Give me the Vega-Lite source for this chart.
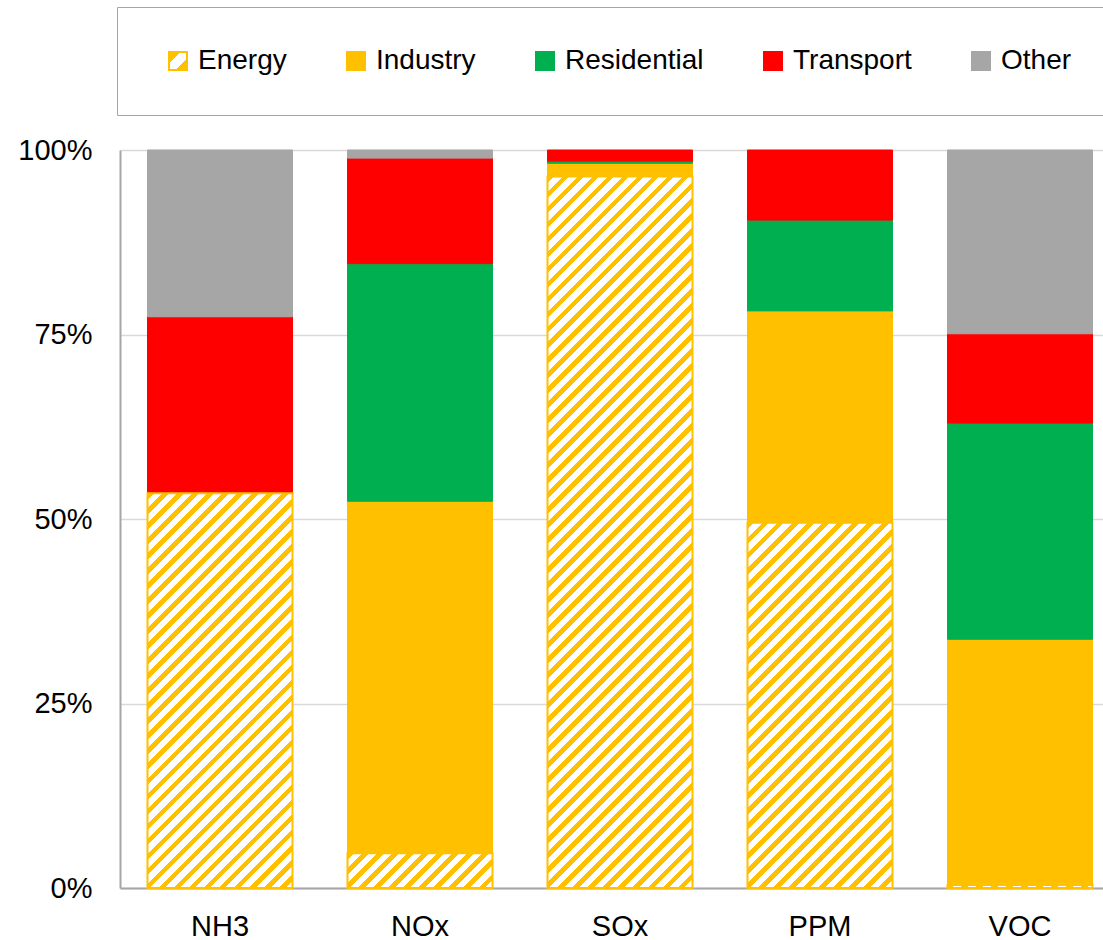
{
"$schema": "https://vega.github.io/schema/vega-lite/v6.json",
"width": 983, "height": 738,
"autosize": {"type": "none"},
"padding": {"left": 120, "top": 150, "right": 0, "bottom": 52},
"background": "white",
"params": [{"name": "stripes", "value": [
{"offset":0,"color":"#FFC000"},{"offset":0.00789,"color":"#FFC000"},{"offset":0.00789,"color":"#fff"},{"offset":0.01754,"color":"#fff"},
{"offset":0.01754,"color":"#FFC000"},{"offset":0.02544,"color":"#FFC000"},{"offset":0.02544,"color":"#fff"},{"offset":0.03509,"color":"#fff"},
{"offset":0.03509,"color":"#FFC000"},{"offset":0.04298,"color":"#FFC000"},{"offset":0.04298,"color":"#fff"},{"offset":0.05263,"color":"#fff"},
{"offset":0.05263,"color":"#FFC000"},{"offset":0.06053,"color":"#FFC000"},{"offset":0.06053,"color":"#fff"},{"offset":0.07018,"color":"#fff"},
{"offset":0.07018,"color":"#FFC000"},{"offset":0.07807,"color":"#FFC000"},{"offset":0.07807,"color":"#fff"},{"offset":0.08772,"color":"#fff"},
{"offset":0.08772,"color":"#FFC000"},{"offset":0.09561,"color":"#FFC000"},{"offset":0.09561,"color":"#fff"},{"offset":0.10526,"color":"#fff"},
{"offset":0.10526,"color":"#FFC000"},{"offset":0.11316,"color":"#FFC000"},{"offset":0.11316,"color":"#fff"},{"offset":0.12281,"color":"#fff"},
{"offset":0.12281,"color":"#FFC000"},{"offset":0.1307,"color":"#FFC000"},{"offset":0.1307,"color":"#fff"},{"offset":0.14035,"color":"#fff"},
{"offset":0.14035,"color":"#FFC000"},{"offset":0.14825,"color":"#FFC000"},{"offset":0.14825,"color":"#fff"},{"offset":0.15789,"color":"#fff"},
{"offset":0.15789,"color":"#FFC000"},{"offset":0.16579,"color":"#FFC000"},{"offset":0.16579,"color":"#fff"},{"offset":0.17544,"color":"#fff"},
{"offset":0.17544,"color":"#FFC000"},{"offset":0.18333,"color":"#FFC000"},{"offset":0.18333,"color":"#fff"},{"offset":0.19298,"color":"#fff"},
{"offset":0.19298,"color":"#FFC000"},{"offset":0.20088,"color":"#FFC000"},{"offset":0.20088,"color":"#fff"},{"offset":0.21053,"color":"#fff"},
{"offset":0.21053,"color":"#FFC000"},{"offset":0.21842,"color":"#FFC000"},{"offset":0.21842,"color":"#fff"},{"offset":0.22807,"color":"#fff"},
{"offset":0.22807,"color":"#FFC000"},{"offset":0.23596,"color":"#FFC000"},{"offset":0.23596,"color":"#fff"},{"offset":0.24561,"color":"#fff"},
{"offset":0.24561,"color":"#FFC000"},{"offset":0.25351,"color":"#FFC000"},{"offset":0.25351,"color":"#fff"},{"offset":0.26316,"color":"#fff"},
{"offset":0.26316,"color":"#FFC000"},{"offset":0.27105,"color":"#FFC000"},{"offset":0.27105,"color":"#fff"},{"offset":0.2807,"color":"#fff"},
{"offset":0.2807,"color":"#FFC000"},{"offset":0.2886,"color":"#FFC000"},{"offset":0.2886,"color":"#fff"},{"offset":0.29825,"color":"#fff"},
{"offset":0.29825,"color":"#FFC000"},{"offset":0.30614,"color":"#FFC000"},{"offset":0.30614,"color":"#fff"},{"offset":0.31579,"color":"#fff"},
{"offset":0.31579,"color":"#FFC000"},{"offset":0.32368,"color":"#FFC000"},{"offset":0.32368,"color":"#fff"},{"offset":0.33333,"color":"#fff"},
{"offset":0.33333,"color":"#FFC000"},{"offset":0.34123,"color":"#FFC000"},{"offset":0.34123,"color":"#fff"},{"offset":0.35088,"color":"#fff"},
{"offset":0.35088,"color":"#FFC000"},{"offset":0.35877,"color":"#FFC000"},{"offset":0.35877,"color":"#fff"},{"offset":0.36842,"color":"#fff"},
{"offset":0.36842,"color":"#FFC000"},{"offset":0.37632,"color":"#FFC000"},{"offset":0.37632,"color":"#fff"},{"offset":0.38596,"color":"#fff"},
{"offset":0.38596,"color":"#FFC000"},{"offset":0.39386,"color":"#FFC000"},{"offset":0.39386,"color":"#fff"},{"offset":0.40351,"color":"#fff"},
{"offset":0.40351,"color":"#FFC000"},{"offset":0.4114,"color":"#FFC000"},{"offset":0.4114,"color":"#fff"},{"offset":0.42105,"color":"#fff"},
{"offset":0.42105,"color":"#FFC000"},{"offset":0.42895,"color":"#FFC000"},{"offset":0.42895,"color":"#fff"},{"offset":0.4386,"color":"#fff"},
{"offset":0.4386,"color":"#FFC000"},{"offset":0.44649,"color":"#FFC000"},{"offset":0.44649,"color":"#fff"},{"offset":0.45614,"color":"#fff"},
{"offset":0.45614,"color":"#FFC000"},{"offset":0.46404,"color":"#FFC000"},{"offset":0.46404,"color":"#fff"},{"offset":0.47368,"color":"#fff"},
{"offset":0.47368,"color":"#FFC000"},{"offset":0.48158,"color":"#FFC000"},{"offset":0.48158,"color":"#fff"},{"offset":0.49123,"color":"#fff"},
{"offset":0.49123,"color":"#FFC000"},{"offset":0.49912,"color":"#FFC000"},{"offset":0.49912,"color":"#fff"},{"offset":0.50877,"color":"#fff"},
{"offset":0.50877,"color":"#FFC000"},{"offset":0.51667,"color":"#FFC000"},{"offset":0.51667,"color":"#fff"},{"offset":0.52632,"color":"#fff"},
{"offset":0.52632,"color":"#FFC000"},{"offset":0.53421,"color":"#FFC000"},{"offset":0.53421,"color":"#fff"},{"offset":0.54386,"color":"#fff"},
{"offset":0.54386,"color":"#FFC000"},{"offset":0.55175,"color":"#FFC000"},{"offset":0.55175,"color":"#fff"},{"offset":0.5614,"color":"#fff"},
{"offset":0.5614,"color":"#FFC000"},{"offset":0.5693,"color":"#FFC000"},{"offset":0.5693,"color":"#fff"},{"offset":0.57895,"color":"#fff"},
{"offset":0.57895,"color":"#FFC000"},{"offset":0.58684,"color":"#FFC000"},{"offset":0.58684,"color":"#fff"},{"offset":0.59649,"color":"#fff"},
{"offset":0.59649,"color":"#FFC000"},{"offset":0.60439,"color":"#FFC000"},{"offset":0.60439,"color":"#fff"},{"offset":0.61404,"color":"#fff"},
{"offset":0.61404,"color":"#FFC000"},{"offset":0.62193,"color":"#FFC000"},{"offset":0.62193,"color":"#fff"},{"offset":0.63158,"color":"#fff"},
{"offset":0.63158,"color":"#FFC000"},{"offset":0.63947,"color":"#FFC000"},{"offset":0.63947,"color":"#fff"},{"offset":0.64912,"color":"#fff"},
{"offset":0.64912,"color":"#FFC000"},{"offset":0.65702,"color":"#FFC000"},{"offset":0.65702,"color":"#fff"},{"offset":0.66667,"color":"#fff"},
{"offset":0.66667,"color":"#FFC000"},{"offset":0.67456,"color":"#FFC000"},{"offset":0.67456,"color":"#fff"},{"offset":0.68421,"color":"#fff"},
{"offset":0.68421,"color":"#FFC000"},{"offset":0.69211,"color":"#FFC000"},{"offset":0.69211,"color":"#fff"},{"offset":0.70175,"color":"#fff"},
{"offset":0.70175,"color":"#FFC000"},{"offset":0.70965,"color":"#FFC000"},{"offset":0.70965,"color":"#fff"},{"offset":0.7193,"color":"#fff"},
{"offset":0.7193,"color":"#FFC000"},{"offset":0.72719,"color":"#FFC000"},{"offset":0.72719,"color":"#fff"},{"offset":0.73684,"color":"#fff"},
{"offset":0.73684,"color":"#FFC000"},{"offset":0.74474,"color":"#FFC000"},{"offset":0.74474,"color":"#fff"},{"offset":0.75439,"color":"#fff"},
{"offset":0.75439,"color":"#FFC000"},{"offset":0.76228,"color":"#FFC000"},{"offset":0.76228,"color":"#fff"},{"offset":0.77193,"color":"#fff"},
{"offset":0.77193,"color":"#FFC000"},{"offset":0.77982,"color":"#FFC000"},{"offset":0.77982,"color":"#fff"},{"offset":0.78947,"color":"#fff"},
{"offset":0.78947,"color":"#FFC000"},{"offset":0.79737,"color":"#FFC000"},{"offset":0.79737,"color":"#fff"},{"offset":0.80702,"color":"#fff"},
{"offset":0.80702,"color":"#FFC000"},{"offset":0.81491,"color":"#FFC000"},{"offset":0.81491,"color":"#fff"},{"offset":0.82456,"color":"#fff"},
{"offset":0.82456,"color":"#FFC000"},{"offset":0.83246,"color":"#FFC000"},{"offset":0.83246,"color":"#fff"},{"offset":0.84211,"color":"#fff"},
{"offset":0.84211,"color":"#FFC000"},{"offset":0.85,"color":"#FFC000"},{"offset":0.85,"color":"#fff"},{"offset":0.85965,"color":"#fff"},
{"offset":0.85965,"color":"#FFC000"},{"offset":0.86754,"color":"#FFC000"},{"offset":0.86754,"color":"#fff"},{"offset":0.87719,"color":"#fff"},
{"offset":0.87719,"color":"#FFC000"},{"offset":0.88509,"color":"#FFC000"},{"offset":0.88509,"color":"#fff"},{"offset":0.89474,"color":"#fff"},
{"offset":0.89474,"color":"#FFC000"},{"offset":0.90263,"color":"#FFC000"},{"offset":0.90263,"color":"#fff"},{"offset":0.91228,"color":"#fff"},
{"offset":0.91228,"color":"#FFC000"},{"offset":0.92018,"color":"#FFC000"},{"offset":0.92018,"color":"#fff"},{"offset":0.92982,"color":"#fff"},
{"offset":0.92982,"color":"#FFC000"},{"offset":0.93772,"color":"#FFC000"},{"offset":0.93772,"color":"#fff"},{"offset":0.94737,"color":"#fff"},
{"offset":0.94737,"color":"#FFC000"},{"offset":0.95526,"color":"#FFC000"},{"offset":0.95526,"color":"#fff"},{"offset":0.96491,"color":"#fff"},
{"offset":0.96491,"color":"#FFC000"},{"offset":0.97281,"color":"#FFC000"},{"offset":0.97281,"color":"#fff"},{"offset":0.98246,"color":"#fff"},
{"offset":0.98246,"color":"#FFC000"},{"offset":0.99035,"color":"#FFC000"},{"offset":0.99035,"color":"#fff"},{"offset":1,"color":"#fff"}
]}],
"data": {"values": [
{"pollutant": "NH3", "sector": "Energy", "value": 53.5, "k": 1},
{"pollutant": "NH3", "sector": "Transport", "value": 23.9, "k": 4},
{"pollutant": "NH3", "sector": "Other", "value": 22.6, "k": 5},
{"pollutant": "NOx", "sector": "Energy", "value": 4.7, "k": 1},
{"pollutant": "NOx", "sector": "Industry", "value": 47.7, "k": 2},
{"pollutant": "NOx", "sector": "Residential", "value": 32.2, "k": 3},
{"pollutant": "NOx", "sector": "Transport", "value": 14.3, "k": 4},
{"pollutant": "NOx", "sector": "Other", "value": 1.1, "k": 5},
{"pollutant": "SOx", "sector": "Energy", "value": 96.4, "k": 1},
{"pollutant": "SOx", "sector": "Industry", "value": 1.8, "k": 2},
{"pollutant": "SOx", "sector": "Residential", "value": 0.3, "k": 3},
{"pollutant": "SOx", "sector": "Transport", "value": 1.5, "k": 4},
{"pollutant": "PPM", "sector": "Energy", "value": 49.5, "k": 1},
{"pollutant": "PPM", "sector": "Industry", "value": 28.7, "k": 2},
{"pollutant": "PPM", "sector": "Residential", "value": 12.3, "k": 3},
{"pollutant": "PPM", "sector": "Transport", "value": 9.5, "k": 4},
{"pollutant": "VOC", "sector": "Energy", "value": 0.4, "k": 1},
{"pollutant": "VOC", "sector": "Industry", "value": 33.3, "k": 2},
{"pollutant": "VOC", "sector": "Residential", "value": 29.3, "k": 3},
{"pollutant": "VOC", "sector": "Transport", "value": 12.1, "k": 4},
{"pollutant": "VOC", "sector": "Other", "value": 24.9, "k": 5}
]},
"encoding": {
  "x": {"field": "pollutant", "type": "nominal",
        "scale": {"domain": ["NH3", "NOx", "SOx", "PPM", "VOC"], "paddingInner": 0.275, "paddingOuter": 0.095, "align": 0.7237},
        "axis": {"title": null, "labelAngle": 0, "ticks": false, "labelPadding": 24, "domainColor": "#A6A6A6", "domainWidth": 2, "grid": false}}
},
"layer": [
  {"mark": {"type": "bar"},
   "encoding": {
     "y": {"field": "value", "type": "quantitative", "stack": "zero",
           "scale": {"domain": [0, 100], "nice": false},
           "axis": {"title": null, "values": [0, 25, 50, 75, 100], "labelExpr": "datum.value + '%'", "grid": true, "gridColor": "#D9D9D9", "gridWidth": 1.3, "domainColor": "#A6A6A6", "domainWidth": 2, "ticks": false, "labelPadding": 28}},
     "color": {"field": "sector", "type": "nominal",
               "scale": {"domain": ["Energy", "Industry", "Residential", "Transport", "Other"],
                         "range": [{"expr": "{gradient: 'linear', x1: 0, y1: 0, x2: 1, y2: 1, stops: [{offset: 0, color: '#FFC000'}, {offset: 0.33, color: '#FFC000'}, {offset: 0.33, color: '#fff'}, {offset: 0.67, color: '#fff'}, {offset: 0.67, color: '#FFC000'}, {offset: 1, color: '#FFC000'}]}"}, "#FFC000", "#00B050", "#FF0000", "#A6A6A6"]},
               "legend": {"title": null, "orient": "none", "legendX": -3, "legendY": -143, "direction": "horizontal",
                          "symbolType": "square", "symbolSize": 324, "symbolOffset": 7, "symbolStrokeWidth": 2,
                          "labelFont": "Liberation Sans", "labelFontSize": 28, "labelColor": "#000", "labelOffset": 6,
                          "columnPadding": 48, "padding": 40, "strokeColor": "#A6A6A6", "fillColor": "#fff"}},
     "stroke": {"field": "sector", "type": "nominal",
               "scale": {"domain": ["Energy", "Industry", "Residential", "Transport", "Other"],
                         "range": ["#FFC000", "#FFC000", "#00B050", "#FF0000", "#A6A6A6"]},
               "legend": {"title": null, "orient": "none", "legendX": -3, "legendY": -143, "direction": "horizontal",
                          "symbolType": "square", "symbolSize": 324, "symbolOffset": 7, "symbolStrokeWidth": 2,
                          "labelFont": "Liberation Sans", "labelFontSize": 28, "labelColor": "#000", "labelOffset": 6,
                          "columnPadding": 48, "padding": 40, "strokeColor": "#A6A6A6", "fillColor": "#fff"}},
     "order": {"field": "k", "type": "quantitative"}
   }},
  {"transform": [{"filter": "datum.sector === 'Energy'"}],
   "mark": {"type": "bar", "stroke": "#FFC000", "strokeWidth": 2,
            "fill": {"expr": "{gradient: 'linear', x1: 0, y1: 0, x2: 124120 / (21025 + pow(datum.value * 7.38, 2)), y2: datum.value * 6317.28 / (21025 + pow(datum.value * 7.38, 2)), stops: stripes}"}},
   "encoding": {
     "y": {"field": "value", "type": "quantitative", "stack": null, "scale": {"domain": [0, 100], "nice": false},
           "axis": {"title": null, "values": [0, 25, 50, 75, 100], "labelExpr": "datum.value + '%'", "grid": true, "gridColor": "#D9D9D9", "gridWidth": 1.3, "domainColor": "#A6A6A6", "domainWidth": 2, "ticks": false, "labelPadding": 28}}
   }}
],
"config": {
  "view": {"stroke": null},
  "font": "Liberation Sans",
  "axis": {"labelFont": "Liberation Sans", "labelFontSize": 29, "labelColor": "#000"}
}
}
